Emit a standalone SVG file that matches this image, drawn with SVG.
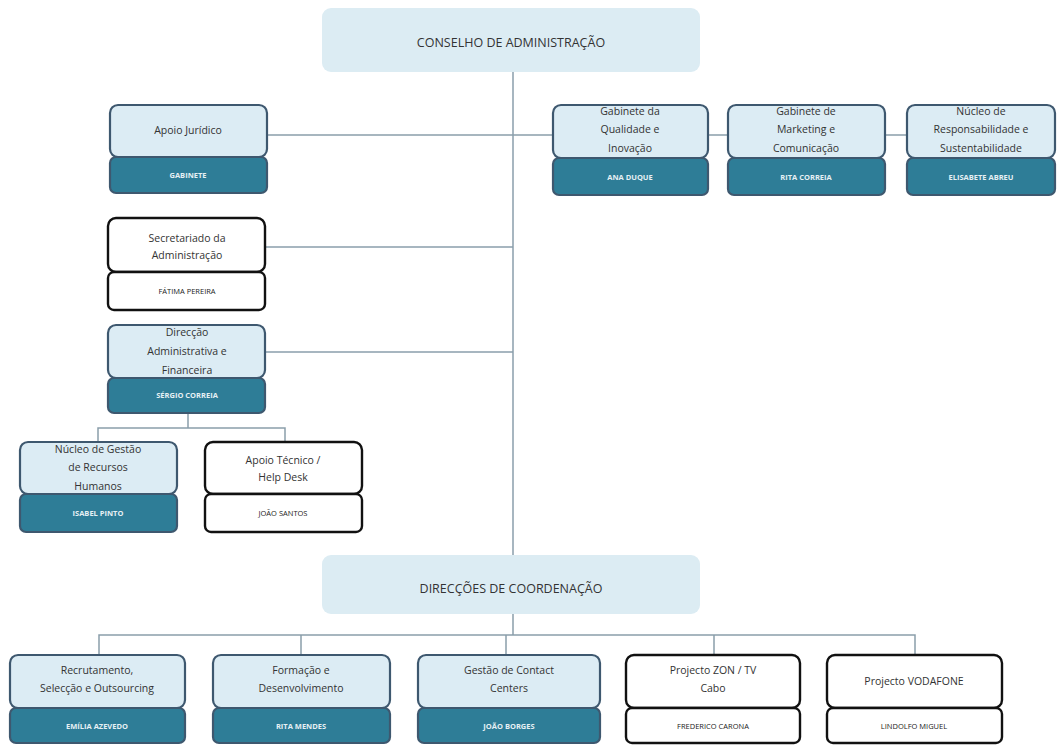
<svg xmlns="http://www.w3.org/2000/svg" width="1057" height="745" viewBox="0 0 1057 745">
<style>
.bg{fill:#ffffff}
.big{fill:#dcecf3}
.up{fill:#dcecf4;stroke:#3e586f;stroke-width:2.2}
.lo{fill:#2e7d97;stroke:#3e586f;stroke-width:2.2}
.wup{fill:#ffffff;stroke:#111111;stroke-width:2.4}
.wlo{fill:#ffffff;stroke:#111111;stroke-width:2.4}
.con{fill:none;stroke:#8a9eab;stroke-width:1.5}
.t{font-family:"Open Sans","Liberation Sans",sans-serif;font-size:10.5px;fill:#333333;text-anchor:middle}
.tb{font-family:"Open Sans","Liberation Sans",sans-serif;font-size:12.5px;fill:#333333;text-anchor:middle}
.lw{font-family:"Open Sans","Liberation Sans",sans-serif;font-size:7.5px;font-weight:bold;fill:#e6f0f4;text-anchor:middle}
.lb{font-family:"Open Sans","Liberation Sans",sans-serif;font-size:7.5px;fill:#222222;text-anchor:middle}
</style>
<rect class="bg" x="0" y="0" width="1057" height="745"/>
<g id="connectors">
<path class="con" d="M513 72 V555"/>
<path class="con" d="M267 135 H553 M708 135 H728 M885 135 H907"/>
<path class="con" d="M265 247 H513"/>
<path class="con" d="M265 352 H513"/>
<path class="con" d="M188 413 V428 M98 442 V428 H285 V442"/>
<path class="con" d="M513 614 V635 M99 655 V635 H915 V655 M301 635 V655 M506 635 V655 M714 635 V655"/>
</g>
<g id="conselho">
<rect class="big" x="322" y="8" width="378" height="64" rx="9"/>
<text class="tb" x="511" y="47">CONSELHO DE ADMINISTRAÇÃO</text>
</g>
<g id="direccoes">
<rect class="big" x="322" y="555" width="378" height="59" rx="9"/>
<text class="tb" x="511" y="593">DIRECÇÕES DE COORDENAÇÃO</text>
</g>
<g id="apoio-juridico">
<rect class="up" x="110" y="105" width="157" height="52" rx="8"/>
<rect class="lo" x="110" y="157" width="157" height="36" rx="6"/>
<text class="t" x="188" y="134">Apoio Jurídico</text>
<text class="lw" x="188" y="178">GABINETE</text>
</g>
<g id="qualidade">
<rect class="up" x="553" y="105" width="155" height="53" rx="8"/>
<rect class="lo" x="553" y="158" width="155" height="37" rx="6"/>
<text class="t" x="630" y="115">Gabinete da</text>
<text class="t" x="630" y="133">Qualidade e</text>
<text class="t" x="630" y="152">Inovação</text>
<text class="lw" x="630" y="180">ANA DUQUE</text>
</g>
<g id="marketing">
<rect class="up" x="728" y="105" width="157" height="53" rx="8"/>
<rect class="lo" x="728" y="158" width="157" height="37" rx="6"/>
<text class="t" x="806" y="115">Gabinete de</text>
<text class="t" x="806" y="133">Marketing e</text>
<text class="t" x="806" y="152">Comunicação</text>
<text class="lw" x="806" y="180">RITA CORREIA</text>
</g>
<g id="responsabilidade">
<rect class="up" x="907" y="105" width="148" height="53" rx="8"/>
<rect class="lo" x="907" y="158" width="148" height="37" rx="6"/>
<text class="t" x="981" y="115">Núcleo de</text>
<text class="t" x="981" y="133">Responsabilidade e</text>
<text class="t" x="981" y="152">Sustentabilidade</text>
<text class="lw" x="981" y="180">ELISABETE ABREU</text>
</g>
<g id="secretariado">
<rect class="wup" x="108" y="218" width="157" height="54" rx="8"/>
<rect class="wlo" x="108" y="272" width="157" height="38" rx="6"/>
<text class="t" x="187" y="242">Secretariado da</text>
<text class="t" x="187" y="259">Administração</text>
<text class="lb" x="187" y="294">FÁTIMA PEREIRA</text>
</g>
<g id="direccao-adm">
<rect class="up" x="108" y="325" width="157" height="53" rx="8"/>
<rect class="lo" x="108" y="378" width="157" height="35" rx="6"/>
<text class="t" x="187" y="336">Direcção</text>
<text class="t" x="187" y="355">Administrativa e</text>
<text class="t" x="187" y="374">Financeira</text>
<text class="lw" x="187" y="398">SÉRGIO CORREIA</text>
</g>
<g id="recursos-humanos">
<rect class="up" x="20" y="442" width="157" height="52" rx="8"/>
<rect class="lo" x="20" y="494" width="157" height="38" rx="6"/>
<text class="t" x="98" y="453">Núcleo de Gestão</text>
<text class="t" x="98" y="471">de Recursos</text>
<text class="t" x="98" y="490">Humanos</text>
<text class="lw" x="98" y="516">ISABEL PINTO</text>
</g>
<g id="apoio-tecnico">
<rect class="wup" x="205" y="442" width="157" height="52" rx="8"/>
<rect class="wlo" x="205" y="494" width="157" height="38" rx="6"/>
<text class="t" x="283" y="464">Apoio Técnico /</text>
<text class="t" x="283" y="481">Help Desk</text>
<text class="lb" x="283" y="516">JOÃO SANTOS</text>
</g>
<g id="recrutamento">
<rect class="up" x="10" y="655" width="175" height="53" rx="8"/>
<rect class="lo" x="10" y="708" width="175" height="35" rx="6"/>
<text class="t" x="97" y="674">Recrutamento,</text>
<text class="t" x="97" y="692">Selecção e Outsourcing</text>
<text class="lw" x="97" y="729">EMÍLIA AZEVEDO</text>
</g>
<g id="formacao">
<rect class="up" x="213" y="655" width="177" height="53" rx="8"/>
<rect class="lo" x="213" y="708" width="177" height="35" rx="6"/>
<text class="t" x="301" y="674">Formação e</text>
<text class="t" x="301" y="692">Desenvolvimento</text>
<text class="lw" x="301" y="729">RITA MENDES</text>
</g>
<g id="contact-centers">
<rect class="up" x="418" y="655" width="182" height="53" rx="8"/>
<rect class="lo" x="418" y="708" width="182" height="35" rx="6"/>
<text class="t" x="509" y="674">Gestão de Contact</text>
<text class="t" x="509" y="692">Centers</text>
<text class="lw" x="509" y="729">JOÃO BORGES</text>
</g>
<g id="zon">
<rect class="wup" x="626" y="655" width="174" height="53" rx="8"/>
<rect class="wlo" x="626" y="708" width="174" height="35" rx="6"/>
<text class="t" x="713" y="674">Projecto ZON / TV</text>
<text class="t" x="713" y="692">Cabo</text>
<text class="lb" x="713" y="729">FREDERICO CARONA</text>
</g>
<g id="vodafone">
<rect class="wup" x="827" y="655" width="175" height="53" rx="8"/>
<rect class="wlo" x="827" y="708" width="175" height="35" rx="6"/>
<text class="t" x="914" y="685">Projecto VODAFONE</text>
<text class="lb" x="914" y="729">LINDOLFO MIGUEL</text>
</g>
</svg>
